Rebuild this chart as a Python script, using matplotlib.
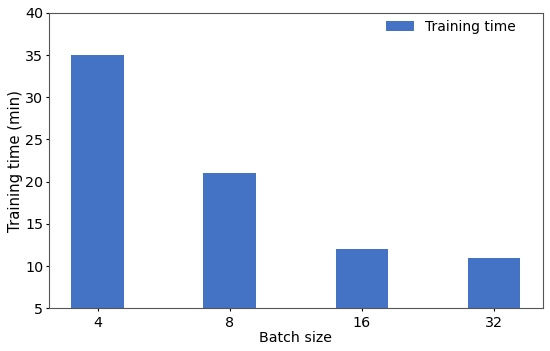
import matplotlib
matplotlib.use("Agg")
import matplotlib.pyplot as plt
import numpy as np

batch_sizes = ["4", "8", "16", "32"]
training_time = [35, 21, 12, 11]

fig, ax = plt.subplots(figsize=(5.5, 3.51), dpi=100)
fig.subplots_adjust(left=0.089, right=0.987, top=0.963, bottom=0.122)
x = np.arange(len(batch_sizes))
ax.bar(x, training_time, width=0.4, color="#4472C4", label="Training time")
ax.set_xticks(x)
ax.set_xticklabels(batch_sizes)
ax.set_ylim(5, 40)
ax.set_yticks(np.arange(5, 41, 5))
ax.tick_params(labelsize=10.3, length=2.5, width=0.8, pad=3)
ax.tick_params(axis="y", pad=1.5)
ax.set_xlabel("Batch size", fontsize=10.2, labelpad=1)
ax.set_ylabel("Training time (min)", fontsize=10.7, labelpad=1.5)
ax.legend(frameon=False, fontsize=10, loc="upper right",
          bbox_to_anchor=(0.957, 0.995), borderaxespad=0)
for s in ax.spines.values():
    s.set_color("#555555")
fig.savefig("out.png", dpi=100)
